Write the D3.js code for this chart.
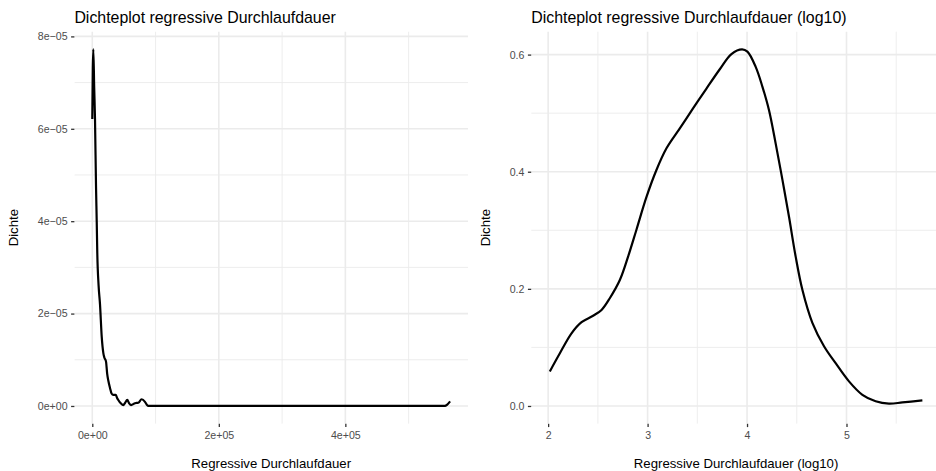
<!DOCTYPE html>
<html>
<head>
<meta charset="utf-8">
<script src="https://cdn.jsdelivr.net/npm/d3@7"></script>
<style>
html,body{margin:0;padding:0;background:#fff;}
svg{display:block;font-family:"Liberation Sans",Arial,Helvetica,sans-serif;}
</style>
</head>
<body>
<svg id="chart" width="936" height="471"></svg>
<script>
// ---- Data ----
const leftTitle = "Dichteplot regressive Durchlaufdauer";
const rightTitle = "Dichteplot regressive Durchlaufdauer (log10)";
const leftXLabel = "Regressive Durchlaufdauer";
const rightXLabel = "Regressive Durchlaufdauer (log10)";
const yLabel = "Dichte";

const leftX = [0, 800, 1600, 3000, 4300, 5900, 7000, 7900, 10000, 12200, 14900, 17400, 19000, 21700, 23500, 25300, 28000, 30500, 33200, 37000, 39000, 41100, 45000, 49000, 52000, 55300, 58000, 61200, 67500, 72700, 78000, 83300, 86500, 88600, 557600, 561000, 565600];
const leftY = [6.21e-5, 7.3e-5, 7.72e-5, 6.9e-5, 6.2e-5, 4.75e-5, 4.0e-5, 3.31e-5, 2.6e-5, 2.2e-5, 1.5e-5, 1.15e-5, 1.05e-5, 0.96e-5, 0.7e-5, 0.55e-5, 0.39e-5, 0.27e-5, 0.24e-5, 0.24e-5, 0.18e-5, 0.13e-5, 0.06e-5, 0.02e-5, 0.07e-5, 0.13e-5, 0.06e-5, 0.02e-5, 0.06e-5, 0.07e-5, 0.145e-5, 0.09e-5, 0.02e-5, 0, 0, 0.03e-5, 0.1e-5];
const leftXTicks = [0, 200000, 400000];
const leftXTickLabels = ["0e+00", "2e+05", "4e+05"];
const leftYTicks = [0, 2e-5, 4e-5, 6e-5, 8e-5];
const leftYTickLabels = ["0e+00", "2e\u221205", "4e\u221205", "6e\u221205", "8e\u221205"];

const rightX = [2.017, 2.118, 2.235, 2.336, 2.452, 2.537, 2.620, 2.721, 2.804, 2.888, 2.989, 3.089, 3.190, 3.324, 3.457, 3.592, 3.726, 3.843, 3.95, 4.004, 4.087, 4.155, 4.221, 4.288, 4.356, 4.422, 4.489, 4.557, 4.657, 4.774, 4.891, 5.025, 5.160, 5.293, 5.427, 5.562, 5.763];
const rightY = [0.059, 0.090, 0.124, 0.143, 0.154, 0.164, 0.184, 0.215, 0.255, 0.301, 0.357, 0.403, 0.440, 0.474, 0.508, 0.542, 0.575, 0.601, 0.609, 0.605, 0.579, 0.545, 0.505, 0.448, 0.386, 0.323, 0.255, 0.198, 0.142, 0.102, 0.073, 0.042, 0.019, 0.008, 0.004, 0.006, 0.0095];
const rightXTicks = [2, 3, 4, 5];
const rightXTickLabels = ["2", "3", "4", "5"];
const rightYTicks = [0, 0.2, 0.4, 0.6];
const rightYTickLabels = ["0.0", "0.2", "0.4", "0.6"];

// ---- Drawing ----
const svg = d3.select("#chart");
const gridCol = "#EBEBEB";

function expand(lo, hi) { const e = (hi - lo) * 0.05; return [lo - e, hi + e]; }
function minors(ticks, dom) {
  const step = ticks[1] - ticks[0];
  const out = [];
  for (let v = ticks[0] - step / 2; v <= dom[1]; v += step) if (v >= dom[0]) out.push(v);
  return out;
}

function panel(opt) {
  const xDom = expand(d3.min(opt.xs), d3.max(opt.xs));
  const yDom = expand(0, d3.max(opt.ys));
  const x = d3.scaleLinear().domain(xDom).range([opt.left, opt.right]);
  const y = d3.scaleLinear().domain(yDom).range([opt.bottom, opt.top]);
  const g = svg.append("g");
  const clipId = "clip" + opt.id;
  svg.append("clipPath").attr("id", clipId).append("rect")
    .attr("x", opt.left).attr("y", opt.top).attr("width", opt.right - opt.left).attr("height", opt.bottom - opt.top);
  const grid = g.append("g").attr("clip-path", `url(#${clipId})`);
  // minor grid
  minors(opt.xTicks, xDom).forEach(v => grid.append("line").attr("x1", x(v)).attr("x2", x(v)).attr("y1", opt.top).attr("y2", opt.bottom).attr("stroke", gridCol).attr("stroke-width", 0.9));
  minors(opt.yTicks, yDom).forEach(v => grid.append("line").attr("y1", y(v)).attr("y2", y(v)).attr("x1", opt.left).attr("x2", opt.right).attr("stroke", gridCol).attr("stroke-width", 0.9));
  // major grid
  opt.xTicks.forEach(v => grid.append("line").attr("x1", x(v)).attr("x2", x(v)).attr("y1", opt.top).attr("y2", opt.bottom).attr("stroke", gridCol).attr("stroke-width", 1.6));
  opt.yTicks.forEach(v => grid.append("line").attr("y1", y(v)).attr("y2", y(v)).attr("x1", opt.left).attr("x2", opt.right).attr("stroke", gridCol).attr("stroke-width", 1.6));

  // axes using d3 axis generators
  const xAxis = d3.axisBottom(x).tickValues(opt.xTicks).tickFormat((d, i) => opt.xLabels[i]).tickSize(3.3).tickPadding(4);
  const yAxis = d3.axisLeft(y).tickValues(opt.yTicks).tickFormat((d, i) => opt.yLabels[i]).tickSize(3.3).tickPadding(3.5);
  const gx = g.append("g").attr("transform", `translate(0,${opt.bottom})`).call(xAxis);
  const gy = g.append("g").attr("transform", `translate(${opt.left},0)`).call(yAxis);
  [gx, gy].forEach(a => {
    a.select(".domain").remove();
    a.selectAll(".tick line").attr("stroke", "#333333").attr("stroke-width", 1.3);
    a.selectAll(".tick text").attr("fill", "#4D4D4D").style("font-size", "10.6px").style("font-family", "'Liberation Sans',Arial,sans-serif");
  });

  // line
  const pts = opt.xs.map((v, i) => [v, opt.ys[i]]);
  const line = d3.line().x(d => x(d[0])).y(d => y(d[1])).curve(opt.curve);
  g.append("path").attr("d", line(pts)).attr("fill", "none").attr("stroke", "#000").attr("stroke-width", 2.2).attr("stroke-linejoin", "round").attr("stroke-linecap", "butt");

  // titles
  g.append("text").attr("x", opt.left).attr("y", 22.7).text(opt.title).style("font-size", "15.9px").attr("fill", "#000");
  g.append("text").attr("x", (opt.left + opt.right) / 2).attr("y", 467.5).attr("text-anchor", "middle").text(opt.xLabel).style("font-size", "13.2px").attr("fill", "#000");
  g.append("text").attr("transform", `translate(${opt.yLabelX},${(opt.top + opt.bottom) / 2}) rotate(-90)`).attr("text-anchor", "middle").text(yLabel).style("font-size", "13.2px").attr("fill", "#000");
}

panel({id: "L", xs: leftX, ys: leftY, left: 74.4, right: 468, top: 31.5, bottom: 423.8,
  xTicks: leftXTicks, xLabels: leftXTickLabels, yTicks: leftYTicks, yLabels: leftYTickLabels,
  title: leftTitle, xLabel: leftXLabel, yLabelX: 18.3, curve: d3.curveMonotoneX});
panel({id: "R", xs: rightX, ys: rightY, left: 531.2, right: 941, top: 31.5, bottom: 423.8,
  xTicks: rightXTicks, xLabels: rightXTickLabels, yTicks: rightYTicks, yLabels: rightYTickLabels,
  title: rightTitle, xLabel: rightXLabel, yLabelX: 490, curve: d3.curveCatmullRom});
</script>
</body>
</html>
